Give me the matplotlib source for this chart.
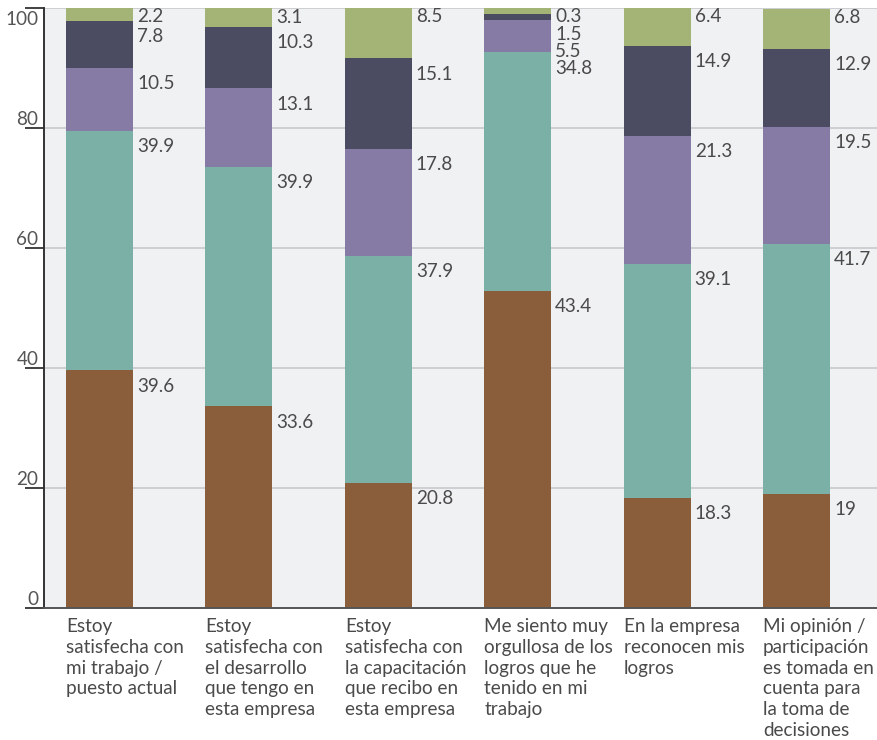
import matplotlib
matplotlib.use("Agg")
import matplotlib.pyplot as plt
import numpy as np

categories = [
    "Estoy\nsatisfecha con\nmi trabajo /\npuesto actual",
    "Estoy\nsatisfecha con\nel desarrollo\nque tengo en\nesta empresa",
    "Estoy\nsatisfecha con\nla capacitación\nque recibo en\nesta empresa",
    "Me siento muy\norgullosa de los\nlogros que he\ntenido en mi\ntrabajo",
    "En la empresa\nreconocen mis\nlogros",
    "Mi opinión /\nparticipación\nes tomada en\ncuenta para\nla toma de\ndecisiones",
]

# segment heights as drawn (bottom to top)
seg1 = [39.6, 33.6, 20.8, 52.8, 18.3, 19.0]   # brown
seg2 = [39.9, 39.9, 37.9, 39.8, 39.1, 41.7]   # teal
seg3 = [10.5, 13.1, 17.8, 5.4, 21.3, 19.5]    # purple
seg4 = [7.8, 10.3, 15.1, 1.0, 14.9, 12.9]     # dark slate
seg5 = [2.2, 3.1, 8.5, 1.0, 6.4, 6.8]         # olive green

# value labels printed next to each segment
lab1 = ["39.6", "33.6", "20.8", "43.4", "18.3", "19"]
lab2 = ["39.9", "39.9", "37.9", "34.8", "39.1", "41.7"]
lab3 = ["10.5", "13.1", "17.8", "5.5", "21.3", "19.5"]
lab4 = ["7.8", "10.3", "15.1", "1.5", "14.9", "12.9"]
lab5 = ["2.2", "3.1", "8.5", "0.3", "6.4", "6.8"]

yticks = [0, 20, 40, 60, 80, 100]

colors = ["#8A5D3B", "#7BB0A7", "#857BA5", "#4B4C62", "#A3B476"]

plt.rcParams['font.family'] = ['Lato', 'DejaVu Sans']
FS = 13.6

fig = plt.figure(figsize=(8.78, 7.40), dpi=100)
ax = fig.add_axes([44/878, 1-608/740, 1-44/878, 600/740])
ax.set_facecolor("#F0F1F3")

x = np.arange(len(categories))
width = 0.48
segs = [seg1, seg2, seg3, seg4, seg5]
labs = [lab1, lab2, lab3, lab4, lab5]

ax.set_axisbelow(True)
for yv in yticks[1:]:
    ax.axhline(yv, color="#C8C9CC", lw=1.2, zorder=0)

bottom = np.zeros(len(categories))
tops = []
for s, c in zip(segs, colors):
    ax.bar(x, s, width, bottom=bottom, color=c, align="center", zorder=2, linewidth=0)
    bottom = bottom + np.array(s)
    tops.append(bottom.copy())

# value labels: placed near top of each segment, avoiding overlap (top-down)
spacing = 2.85
for i in range(len(categories)):
    prev = None
    for k in range(len(segs) - 1, -1, -1):
        top = tops[k][i]
        off = 1.5 if k == len(segs) - 1 else 2.6
        yl = min(top - off, 98.5)
        if prev is not None:
            yl = min(yl, prev - spacing)
        prev = yl
        ax.annotate(labs[k][i], xy=(x[i] + width / 2, yl), xytext=(3, 0),
                    textcoords="offset points", ha="left", va="center",
                    fontsize=FS, color="#4A4A4A", zorder=3)

ax.set_xlim(-0.398, 5.585)
ax.set_ylim(0, 100)

ax.set_yticks(yticks)
ax.set_yticklabels([])
ax.tick_params(axis="y", direction="out", length=14, width=1.3, color="#333333")
ax.tick_params(axis="x", length=0)
ax.set_xticks([])
for yv in yticks:
    top_lab = yv == yticks[-1]
    ax.annotate(str(yv), xy=(0, yv), xycoords=("axes fraction", "data"),
                xytext=(-4, -2 if top_lab else 0), textcoords="offset points",
                ha="right", va="top" if top_lab else "bottom",
                fontsize=FS, color="#555555")

for sp in ["top", "right"]:
    ax.spines[sp].set_visible(False)
ax.spines["left"].set_color("#333333")
ax.spines["left"].set_linewidth(1.4)
ax.spines["bottom"].set_color("#555555")
ax.spines["bottom"].set_linewidth(1.4)

for i, cat in enumerate(categories):
    ax.annotate(cat, xy=(x[i] - width / 2, 0), xytext=(0, -7),
                textcoords="offset points", ha="left", va="top",
                fontsize=FS, color="#4A4A4A", linespacing=1.28,
                annotation_clip=False)

fig.savefig("out.png", dpi=100, facecolor="white")
